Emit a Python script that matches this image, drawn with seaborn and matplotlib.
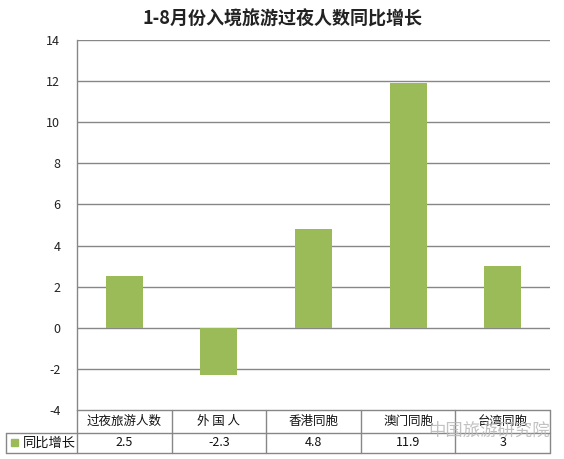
import matplotlib
matplotlib.use("Agg")
import matplotlib.pyplot as plt
import matplotlib.transforms as mtransforms
import seaborn as sns
import pandas as pd

categories = ["过夜旅游人数", "外 国 人", "香港同胞", "澳门同胞", "台湾同胞"]
values = [2.5, -2.3, 4.8, 11.9, 3]
value_labels = ["2.5", "-2.3", "4.8", "11.9", "3"]
series_name = "同比增长"
title = "1-8月份入境旅游过夜人数同比增长"
yticks = [-4, -2, 0, 2, 4, 6, 8, 10, 12, 14]
watermark = "中国旅游研究院"

sns.set_theme(style="white")
plt.rcParams['font.family'] = ['Noto Sans CJK SC', 'DejaVu Sans']

df = pd.DataFrame({"cat": categories, "val": values})

W, H = 564, 459
fig = plt.figure(figsize=(W / 100, H / 100), dpi=100)
fig.patch.set_facecolor("white")
left, right, top, bottom = 77, 550, 40, 410
ax = fig.add_axes([left / W, 1 - bottom / H, (right - left) / W, (bottom - top) / H])

green = "#9BBB59"
grid_c = "#878787"
sns.barplot(data=df, x="cat", y="val", color=green, width=0.39, ax=ax,
            saturation=1, edgecolor="none")
ax.set_xlim(-0.5, len(categories) - 0.5)
ax.set_ylim(-4, 14)
ax.set_yticks(yticks)
ax.set_yticklabels([str(t) for t in yticks], fontsize=9, color="#222222")
ax.set_xticks([])
ax.set_xlabel("")
ax.set_ylabel("")
for s in ["top", "right", "bottom"]:
    ax.spines[s].set_visible(False)
ax.spines["left"].set_color(grid_c)
ax.spines["left"].set_linewidth(1)
ax.tick_params(axis="y", length=0, pad=12)
for t in yticks[1:]:
    ax.axhline(t, color=grid_c, lw=1, zorder=0)
ax.set_axisbelow(True)

fig.text(282 / W, 1 - 19 / H, title, ha="center", va="center",
         fontsize=13, fontweight="bold", color="#222222")

# data table below the axes
def fy(py):
    return 1 - py / H

def fx(px):
    return px / W

row1_top, row1_bot, row2_bot = 410, 433, 453
tbl_left = 6
lines = []
# horizontal lines
fig.add_artist(plt.Line2D([fx(left), fx(right)], [fy(row1_top)] * 2, color=grid_c, lw=1))
fig.add_artist(plt.Line2D([fx(tbl_left), fx(right)], [fy(row1_bot)] * 2, color=grid_c, lw=1))
fig.add_artist(plt.Line2D([fx(tbl_left), fx(right)], [fy(row2_bot)] * 2, color=grid_c, lw=1))
fig.add_artist(plt.Line2D([fx(tbl_left)] * 2, [fy(row1_bot), fy(row2_bot)], color=grid_c, lw=1))
colw = (right - left) / len(categories)
for i in range(len(categories) + 1):
    x = left + i * colw
    fig.add_artist(plt.Line2D([fx(x)] * 2, [fy(row1_top), fy(row2_bot)], color=grid_c, lw=1))

trans = mtransforms.blended_transform_factory(ax.transData, fig.transFigure)
for i, (c, v) in enumerate(zip(categories, value_labels)):
    ax.text(i, fy((row1_top + row1_bot) / 2), c, transform=trans, ha="center",
            va="center", fontsize=9, color="#111111", clip_on=False)
    ax.text(i, fy((row1_bot + row2_bot) / 2), v, transform=trans, ha="center",
            va="center", fontsize=9, color="#111111", clip_on=False)

# legend key in table
fig.add_artist(plt.Rectangle((fx(11), fy(446)), 7 / W, 7 / H, color=green))
fig.text(fx(23), fy((row1_bot + row2_bot) / 2), series_name, ha="left", va="center",
         fontsize=9.5, color="#111111")

# watermark
fig.text(fx(489), fy(431), watermark, ha="center", va="center", fontsize=12.5,
         color="#b8b8b8", alpha=0.85)

fig.savefig("out.png", dpi=100, facecolor="white")
